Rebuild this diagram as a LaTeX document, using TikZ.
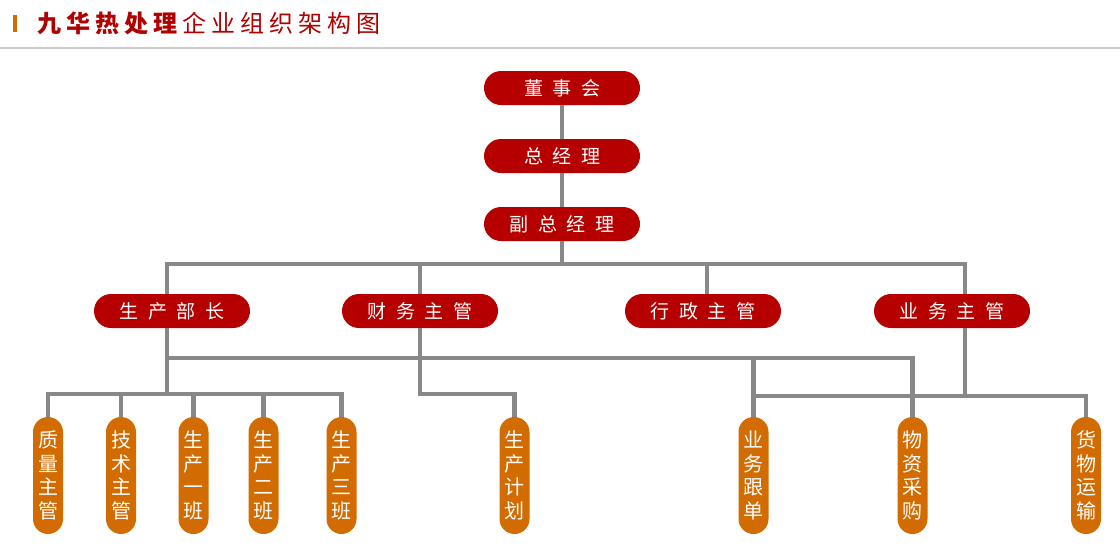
\documentclass[tikz,border=0pt]{standalone}
\usepackage{fontspec}
\newfontfamily\cjk{Noto Sans CJK SC}
\definecolor{boxred}{HTML}{B60000}
\definecolor{boxorange}{HTML}{D26B00}
\definecolor{linegray}{HTML}{888888}
\definecolor{titlered}{HTML}{B00000}
\definecolor{ruleg}{HTML}{CCCCCC}
\newcommand{\headfont}{\cjk\fontsize{19pt}{19pt}\selectfont\spaceskip 9.5pt\relax}
\newcommand{\titlefont}{\cjk\fontsize{24pt}{24pt}\selectfont\spaceskip 5pt\relax}

\begin{document}
\begin{tikzpicture}[x=1pt,y=-1pt]
\useasboundingbox (0,0) rectangle (1120,550);
\tikzset{head/.style = {shape=rectangle, rounded corners=17pt, fill=boxred, text=white, minimum width=156pt, minimum height=34pt, inner sep=0pt, font=\headfont}}
\tikzset{staff/.style = {shape=rectangle, rounded corners=15pt, fill=boxorange, text=white, minimum width=30pt, minimum height=117pt, inner sep=0pt, align=center, font=\cjk\fontsize{20pt}{23.5pt}\selectfont}}
\tikzset{edge/.style = {draw=linegray, line width=4.5pt}}
% header
\fill[boxorange] (13,15) rectangle (17,32);
\draw[ruleg, line width=2pt] (0,48) -- (1120,48);
\node[anchor=west, inner sep=0pt, text=titlered, font=\titlefont] (title) at (37,23.5) {{\bfseries 九 华 热 处 理} 企 业 组 织 架 构 图};
% vertices
\node[head] (dsh)  at (562,88)  {董 事 会};
\node[head] (zjl)  at (562,156) {总 经 理};
\node[head] (fzjl) at (562,224) {副 总 经 理};
\node[head] (scbz) at (172,311) {生 产 部 长};
\node[head] (cwzg) at (420,311) {财 务 主 管};
\node[head] (xzzg) at (703,311) {行 政 主 管};
\node[head] (ywzg) at (952,311) {业 务 主 管};
\node[staff] (zlzg) at (48,475.5)   {质\\量\\主\\管};
\node[staff] (jszg) at (121,475.5)  {技\\术\\主\\管};
\node[staff] (sc1)  at (193.5,475.5) {生\\产\\一\\班};
\node[staff] (sc2)  at (263.5,475.5) {生\\产\\二\\班};
\node[staff] (sc3)  at (341.5,475.5) {生\\产\\三\\班};
\node[staff] (scjh) at (514.5,475.5) {生\\产\\计\\划};
\node[staff] (ywgd) at (753.5,475.5) {业\\务\\跟\\单};
\node[staff] (wzcg) at (912.5,475.5) {物\\资\\采\\购};
\node[staff] (hwys) at (1086,475.5) {货\\物\\运\\输};

% bus points
\coordinate (b1) at (167,264);
\coordinate (b2) at (965,264);
\coordinate (b3) at (707,264);
\coordinate (c1) at (167,394);
\coordinate (m1) at (167,358);
\coordinate (r1) at (965,396);

%edges
\draw[edge] (dsh) -- (zjl);
\draw[edge] (zjl) -- (fzjl);
\draw[edge] (fzjl.south) -- (fzjl.south |- b1);
\draw[edge] (scbz.north -| b1) -- (b1) -- (b2) -- (ywzg.north -| b2);
\draw[edge] (cwzg.north) -- (cwzg.north |- b1);
\draw[edge] (xzzg.north -| b3) -- (b3);
\draw[edge] (scbz.south -| b1) -- (c1);
\draw[edge] (zlzg.north) -- (zlzg.north |- c1) -- (sc3.north |- c1) -- (sc3.north);
\foreach \n in {jszg,sc1,sc2}
  \draw[edge] (\n.north) -- (\n.north |- c1);
\draw[edge] (m1) -- (wzcg.north |- m1) -- (wzcg.north);
\draw[edge] (cwzg.south) -- (cwzg.south |- c1) -- (scjh.north |- c1) -- (scjh.north);
\draw[edge] (ywgd.north) -- (ywgd.north |- m1);
\draw[edge] (ywzg.south -| r1) -- (r1);
\draw[edge] (ywgd.north |- r1) -- (hwys.north |- r1) -- (hwys.north);
\end{tikzpicture}
\end{document}
